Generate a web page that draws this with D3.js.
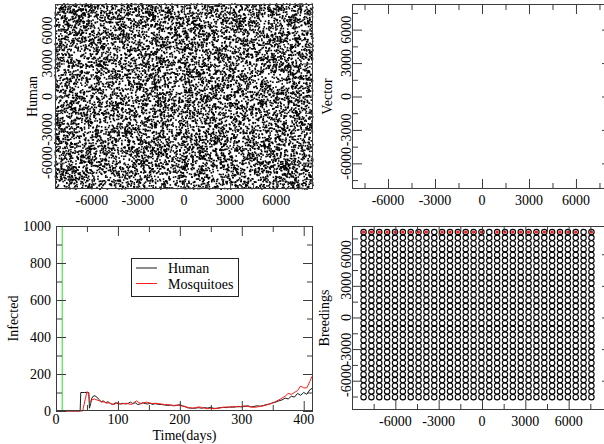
<!DOCTYPE html>
<html>
<head>
<meta charset="utf-8">
<script src="https://cdn.jsdelivr.net/npm/d3@7"></script>
<style>
  html, body { margin: 0; padding: 0; background: #fff; }
  svg { display: block; font-family: "Liberation Serif", "Times New Roman", serif; }
</style>
</head>
<body>
<svg id="chart" width="604" height="444"></svg>
<script>
// ---- data ----------------------------------------------------------------
// infection time series (day, count)
const humanDays   = [0, 39, 40, 46, 52, 53, 54, 56, 58, 60, 63, 66, 70, 73, 76, 80, 84, 88, 92, 96, 100, 104, 108, 112, 116, 120, 124, 128, 132, 136, 140, 144, 148, 152, 156, 160, 165, 170, 175, 180, 185, 190, 195, 200, 204, 208, 212, 216, 220, 225, 230, 235, 240, 245, 250, 255, 260, 265, 270, 275, 280, 285, 290, 295, 300, 305, 310, 315, 320, 325, 330, 335, 340, 345, 350, 355, 360, 365, 370, 375, 380, 385, 390, 395, 400, 405, 410, 415];
const humanValues = [0, 0, 100, 100, 100, 100, 15, 40, 70, 80, 82, 75, 60, 50, 55, 45, 50, 40, 35, 45, 40, 38, 42, 38, 40, 48, 40, 45, 35, 38, 45, 40, 38, 42, 35, 40, 36, 35, 33, 30, 32, 28, 30, 35, 28, 25, 18, 16, 15, 15, 18, 15, 18, 16, 20, 14, 15, 18, 20, 18, 22, 20, 22, 25, 22, 25, 28, 22, 25, 28, 26, 30, 35, 38, 45, 48, 55, 60, 70, 65, 80, 75, 95, 85, 100, 90, 115, 125];

const mosqDays    = [0, 43, 47, 50, 52, 55, 58, 62, 66, 70, 74, 78, 82, 86, 90, 94, 98, 102, 106, 110, 114, 118, 122, 126, 130, 134, 138, 142, 146, 150, 155, 160, 165, 170, 175, 180, 185, 190, 195, 200, 205, 210, 215, 220, 225, 230, 235, 240, 245, 250, 255, 260, 265, 270, 275, 280, 285, 290, 295, 300, 305, 310, 315, 320, 325, 330, 335, 340, 345, 350, 355, 360, 365, 370, 375, 380, 385, 390, 395, 400, 405, 410, 413, 415];
const mosqValues  = [0, 0, 60, 105, 95, 50, 60, 65, 60, 55, 48, 50, 42, 45, 38, 35, 45, 40, 38, 40, 42, 38, 35, 45, 55, 45, 40, 45, 48, 45, 40, 42, 40, 38, 35, 35, 32, 30, 32, 30, 25, 22, 18, 15, 18, 22, 20, 15, 12, 15, 12, 14, 16, 20, 22, 20, 25, 24, 22, 25, 28, 24, 22, 20, 22, 25, 28, 32, 38, 42, 52, 60, 70, 80, 95, 90, 100, 110, 135, 125, 125, 160, 185, 180];

const seriesNames  = ["Human", "Mosquitoes"];
const seriesColors = ["#1a1a1a", "#ff1a1a"];
const releaseDay = 10;   // green marker line

// breeding-site lattice (metres)
const siteX = [-8200, -7656, -7112, -6568, -6024, -5480, -4936, -4392, -3848, -3304, -2760, -2216, -1672, -1128, -584, -40, 504, 1048, 1592, 2136, 2680, 3224, 3768, 4312, 4856, 5400, 5944, 6488, 7032, 7576];
const siteY = [8100, 7560, 7020, 6480, 5940, 5400, 4860, 4320, 3780, 3240, 2700, 2160, 1620, 1080, 540, 0, -540, -1080, -1620, -2160, -2700, -3240, -3780, -4320, -4860, -5400, -5940, -6480, -7020, -7560];
// columns of the first row that hold infected breeding sites
const infectedTopRow = [0, 1, 2, 3, 4, 5, 6, 7, 8, 10, 11, 12, 13, 14, 15, 17, 18, 19, 20, 21, 22, 23, 24, 25, 26, 27, 29];

// human agents spread over the square domain
const humanCount = 10500;
const humanSeed = 0.4187;

// tick values
const spaceMajor = [-6000, -3000, 0, 3000, 6000];
const spaceMinor = [-7500, -4500, -1500, 1500, 4500, 7500];
const timeMajor  = [0, 100, 200, 300, 400];
const timeMinor  = [50, 150, 250, 350];
const countMajor = [0, 200, 400, 600, 800, 1000];
const countMinor = [100, 300, 500, 700, 900];

// ---- drawing -------------------------------------------------------------
const svg = d3.select("#chart");
const frameColor = "#3c3c3c";
const MAJ = 10, MIN = 6;

function ticksAll(g, x, y, xMaj, xMin, yMaj, yMin) {
  const [x0, x1] = x.range();
  const [y1, y0] = y.range();
  const sides = [
    [d3.axisBottom, x, `translate(0,${y1})`, xMaj, xMin],
    [d3.axisTop,    x, `translate(0,${y0})`, xMaj, xMin],
    [d3.axisLeft,   y, `translate(${x0},0)`, yMaj, yMin],
    [d3.axisRight,  y, `translate(${x1},0)`, yMaj, yMin]
  ];
  sides.forEach(([ax, sc, tr, maj, min]) => {
    [[maj, MAJ], [min, MIN]].forEach(([vals, len]) => {
      const a = g.append("g").attr("transform", tr)
        .call(ax(sc).tickValues(vals).tickSize(-len).tickFormat(""));
      a.select(".domain").remove();
      a.selectAll("line").attr("stroke", frameColor).attr("stroke-width", 1);
    });
  });
  g.append("rect")
    .attr("x", x0 + 0.5).attr("y", y0 + 0.5)
    .attr("width", x1 - x0 - 1).attr("height", y1 - y0 - 1)
    .attr("fill", "none").attr("stroke", frameColor).attr("stroke-width", 1);
}

function spaceLabels(g, x, y, xBase, yBase, title, titleX) {
  g.selectAll(null).data(spaceMajor).join("text")
    .attr("x", d => x(d)).attr("y", xBase)
    .attr("text-anchor", "middle").attr("font-size", 14).text(d => d);
  g.selectAll(null).data(spaceMajor).join("text")
    .attr("transform", d => `translate(${yBase},${y(d)}) rotate(-90)`)
    .attr("text-anchor", "middle").attr("font-size", 14).text(d => d);
  const [ya, yb] = y.range();
  g.append("text")
    .attr("transform", `translate(${titleX},${(ya + yb) / 2}) rotate(-90)`)
    .attr("text-anchor", "middle").attr("font-size", 14).text(title);
}

// --- Human positions panel
{
  const x = d3.scaleLinear().domain([-8400, 8400]).range([55, 313]);
  const y = d3.scaleLinear().domain([-8400, 8400]).range([189, 4]);
  const g = svg.append("g");
  const rng = d3.randomLcg(humanSeed);
  const ux = d3.randomUniform.source(rng)(-8400, 8400);
  const pts = d3.range(humanCount).map(() => [ux(), ux()]);
  g.append("g").selectAll("rect").data(pts).join("rect")
    .attr("x", d => x(d[0]) - 0.8).attr("y", d => y(d[1]) - 0.8)
    .attr("width", 1.6).attr("height", 1.6).attr("fill", "#000");
  ticksAll(g, x, y, spaceMajor, spaceMinor, spaceMajor, spaceMinor);
  spaceLabels(g, x, y, 205, 52, "Human", 37);
}

// --- Vector positions panel (empty)
{
  const x = d3.scaleLinear().domain([-8300, 8300]).range([352, 612]);
  const y = d3.scaleLinear().domain([-8300, 8300]).range([189, 4]);
  const g = svg.append("g");
  ticksAll(g, x, y, spaceMajor, spaceMinor, spaceMajor, spaceMinor);
  spaceLabels(g, x, y, 205, 351, "Vector", 332);
}

// --- Infected time series
{
  const x = d3.scaleLinear().domain([0, 415]).range([56, 313]);
  const y = d3.scaleLinear().domain([0, 1000]).range([411, 226]);
  const g = svg.append("g");
  g.append("line")
    .attr("x1", x(releaseDay)).attr("x2", x(releaseDay))
    .attr("y1", y(0)).attr("y2", y(1000))
    .attr("stroke", "#22e022").attr("stroke-width", 1);
  const line = d3.line().x(d => x(d[0])).y(d => y(d[1]));
  const human = humanDays.map((d, i) => [d, humanValues[i]]);
  const mosq = mosqDays.map((d, i) => [d, mosqValues[i]]);
  [human, mosq].forEach((s, i) => {
    g.append("path").datum(s).attr("d", line)
      .attr("fill", "none").attr("stroke", seriesColors[i]).attr("stroke-width", 1);
  });
  ticksAll(g, x, y, timeMajor, timeMinor, countMajor, countMinor);
  g.selectAll(null).data(timeMajor).join("text")
    .attr("x", d => x(d)).attr("y", 424)
    .attr("text-anchor", "middle").attr("font-size", 14).text(d => d);
  g.selectAll(null).data(countMajor).join("text")
    .attr("x", 51).attr("y", d => y(d) + 5)
    .attr("text-anchor", "end").attr("font-size", 14).text(d => d);
  g.append("text").attr("x", (x(0) + x(415)) / 2).attr("y", 440)
    .attr("text-anchor", "middle").attr("font-size", 14).text("Time(days)");
  g.append("text").attr("transform", `translate(18,${(y(0) + y(1000)) / 2}) rotate(-90)`)
    .attr("text-anchor", "middle").attr("font-size", 14).text("Infected");

  // legend
  const lg = g.append("g");
  lg.append("rect").attr("x", 131.5).attr("y", 258.5).attr("width", 107).attr("height", 38)
    .attr("fill", "#fff").attr("stroke", "#222").attr("stroke-width", 1);
  seriesNames.forEach((n, i) => {
    const yy = 268 + i * 15.5;
    lg.append("line").attr("x1", 136).attr("x2", 157).attr("y1", yy).attr("y2", yy)
      .attr("stroke", seriesColors[i]).attr("stroke-width", 1);
    lg.append("text").attr("x", 168).attr("y", yy + 5)
      .attr("font-size", 14).text(n);
  });
}

// --- Breeding sites panel
{
  const x = d3.scaleLinear().domain([-9000, 9000]).range([352, 612]);
  const y = d3.scaleLinear().domain([-8780, 8680]).range([410, 226]);
  const g = svg.append("g");
  const sites = [];
  siteY.forEach((sy, r) => siteX.forEach((sx, c) => sites.push({ sx, sy, r, c })));
  g.append("g").selectAll("circle").data(sites).join("circle")
    .attr("cx", d => x(d.sx)).attr("cy", d => y(d.sy)).attr("r", 2.7)
    .attr("fill", "none").attr("stroke", "#000").attr("stroke-width", 1.1);
  g.append("g").selectAll("circle").data(infectedTopRow).join("circle")
    .attr("cx", c => x(siteX[c])).attr("cy", y(siteY[0])).attr("r", 1.7)
    .attr("fill", "#ff1a1a");
  ticksAll(g, x, y, spaceMajor, spaceMinor, spaceMajor, spaceMinor);
  g.selectAll(null).data(spaceMajor).join("text")
    .attr("x", d => x(d)).attr("y", 426)
    .attr("text-anchor", "middle").attr("font-size", 14).text(d => d);
  g.selectAll(null).data(spaceMajor).join("text")
    .attr("transform", d => `translate(351,${y(d)}) rotate(-90)`)
    .attr("text-anchor", "middle").attr("font-size", 14).text(d => d);
  g.append("text").attr("transform", `translate(329,318) rotate(-90)`)
    .attr("text-anchor", "middle").attr("font-size", 14).text("Breedings");
}
</script>
</body>
</html>
